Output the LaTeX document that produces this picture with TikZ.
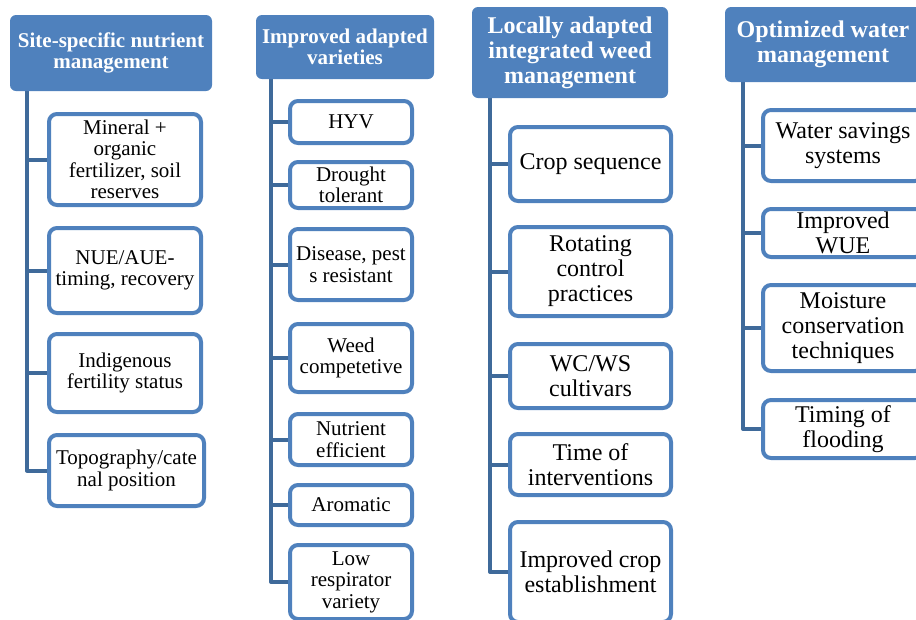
\documentclass[tikz,border=0pt]{standalone}
\usepackage{fontspec}
\setmainfont{Liberation Serif}
\usetikzlibrary{backgrounds}
\definecolor{hdrblue}{HTML}{4F81BD}
\definecolor{brdblue}{HTML}{4F81BD}
\definecolor{trkblue}{HTML}{3F6A9A}
\begin{document}
\begin{tikzpicture}[x=1pt,y=-1pt,
  hdr/.style={fill=hdrblue, rounded corners=6pt, text=white, align=center, inner sep=0pt},
  hsm/.style={font=\bfseries\fontsize{21}{21}\selectfont},
  hlg/.style={font=\bfseries\fontsize{24}{25}\selectfont},
  box/.style={draw=brdblue, line width=4pt, fill=white, rounded corners=8pt, align=center, inner sep=0pt},
  sm/.style={font=\fontsize{21}{21.5}\selectfont},
  lg/.style={font=\fontsize{24}{25}\selectfont},
  trunk/.style={draw=trkblue, line width=4pt, line join=round}]
\useasboundingbox (0,0) rectangle (916,619);
\clip (0,0) rectangle (916,619);

% ---------- column 1
\node[hdr,hsm,minimum width=202pt,minimum height=76pt] (h1) at (111,53) {Site-specific nutrient\\management};
\node[box,sm,minimum width=152pt,minimum height=91pt] (a1) at (125,159.5) {Mineral +\\organic\\fertilizer, soil\\reserves};
\node[box,sm,minimum width=152pt,minimum height=85pt] (a2) at (125,270.5) {NUE/AUE-\\timing, recovery};
\node[box,sm,minimum width=152pt,minimum height=78pt] (a3) at (125,373) {Indigenous\\fertility status};
\node[box,sm,minimum width=155pt,minimum height=71pt] (a4) at (126.5,470.5) {Topography/cate\\nal position};
\coordinate (t1) at (27,91);

% ---------- column 2
\node[hdr,hsm,minimum width=178pt,minimum height=64pt] (h2) at (345,47) {Improved adapted\\varieties};
\node[box,sm,minimum width=122pt,minimum height=42pt] (b1) at (351,122) {HYV};
\node[box,sm,minimum width=122pt,minimum height=46pt] (b2) at (351,185) {Drought\\tolerant};
\node[box,sm,minimum width=122pt,minimum height=71pt] (b3) at (351,264.5) {Disease, pest\\s resistant};
\node[box,sm,minimum width=122pt,minimum height=68pt] (b4) at (351,358) {Weed\\competetive};
\node[box,sm,minimum width=122pt,minimum height=51pt] (b5) at (351,439.5) {Nutrient\\efficient};
\node[box,sm,minimum width=122pt,minimum height=40pt] (b6) at (351,505) {Aromatic};
\node[box,sm,minimum width=122pt,minimum height=74pt] (b7) at (351,582) {Low\\respirator\\variety};
\coordinate (t2) at (271,79);

% ---------- column 3
\node[hdr,hlg,minimum width=196pt,minimum height=91pt] (h3) at (570,52.5) {Locally adapted\\integrated weed\\management};
\node[box,lg,minimum width=161pt,minimum height=74pt] (c1) at (590.5,164) {Crop sequence};
\node[box,lg,minimum width=161pt,minimum height=89pt] (c2) at (590.5,271.5) {Rotating\\control\\practices};
\node[box,lg,minimum width=161pt,minimum height=64pt] (c3) at (590.5,376) {WC/WS\\cultivars};
\node[box,lg,minimum width=161pt,minimum height=61pt] (c4) at (590.5,464.5) {Time of\\interventions};
\node[box,lg,minimum width=161pt,minimum height=100pt] (c5) at (590.5,572) {Improved crop\\establishment};
\coordinate (t3) at (490,98);

% ---------- column 4
\node[hdr,hlg,minimum width=196pt,minimum height=75pt] (h4) at (823,44.5) {Optimized water\\management};
\node[box,lg,minimum width=160pt,minimum height=71pt] (d1) at (843,145.5) {Water savings\\systems};
\node[box,lg,minimum width=160pt,minimum height=48pt] (d2) at (843,233) {Improved\\WUE};
\node[box,lg,minimum width=160pt,minimum height=86pt] (d3) at (843,328) {Moisture\\conservation\\techniques};
\node[box,lg,minimum width=160pt,minimum height=58pt] (d4) at (843,429) {Timing of\\flooding};
\coordinate (t4) at (743,82);

% ---------- connectors
\begin{scope}[on background layer]
  \draw[trunk] (t1) |- (a4.west);
  \foreach \n in {a1,a2,a3} \draw[trunk] (t1 |- \n.west) -- (\n.west);
  \draw[trunk] (t2) |- (b7.west);
  \foreach \n in {b1,b2,b3,b4,b5,b6} \draw[trunk] (t2 |- \n.west) -- (\n.west);
  \draw[trunk] (t3) |- (c5.west);
  \foreach \n in {c1,c2,c3,c4} \draw[trunk] (t3 |- \n.west) -- (\n.west);
  \draw[trunk] (t4) |- (d4.west);
  \foreach \n in {d1,d2,d3} \draw[trunk] (t4 |- \n.west) -- (\n.west);
\end{scope}
\end{tikzpicture}
\end{document}
